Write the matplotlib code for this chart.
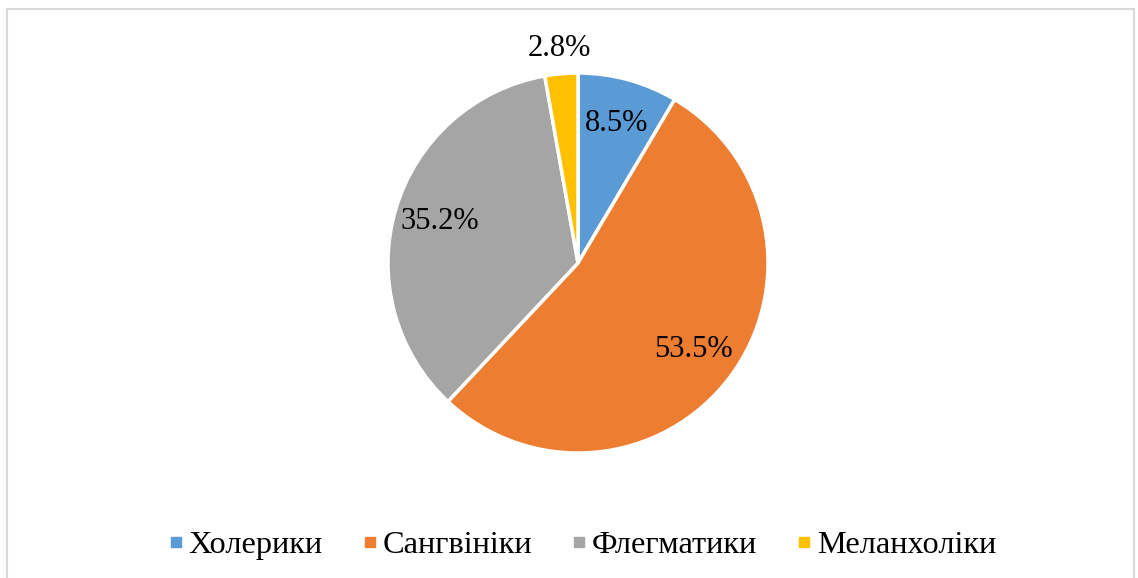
import matplotlib
matplotlib.use("Agg")
import matplotlib.pyplot as plt
from matplotlib.lines import Line2D
from matplotlib.patches import Rectangle

categories = ["Холерики", "Сангвініки", "Флегматики", "Меланхоліки"]
shares = [8.5, 53.5, 35.2, 2.8]
colours = ["#5b9bd5", "#ed7d31", "#a5a5a5", "#ffc000"]

plt.rcParams["font.family"] = ["Liberation Serif", "DejaVu Serif"]

W, H = 1138, 578
fig = plt.figure(figsize=(W / 100, H / 100), dpi=100)
ax = fig.add_axes([0, 0, 1, 1])

cx, cy = 578, H - 263
wedges, texts, autotexts = ax.pie(
    shares, colors=colours, startangle=90, counterclock=False,
    center=(cx, cy), radius=190, autopct="%.1f%%", pctdistance=0.76,
    wedgeprops=dict(edgecolor="white", linewidth=2.5),
    textprops=dict(fontsize=22, color="black"))

# pie() resets the limits, so put the pixel frame back afterwards
ax.set_xlim(0, W)
ax.set_ylim(0, H)
ax.set_aspect("equal")
ax.axis("off")

# light grey frame like the Excel chart area
ax.add_patch(Rectangle((7, -5), 1127, H - 9 + 5, fill=False,
                       edgecolor="#d9d9d9", linewidth=1.5))

# the tiny slice gets its label pushed outside
x, y = autotexts[-1].get_position()
autotexts[-1].set_position((cx + (x - cx) * 1.49, cy + (y - cy) * 1.49))

handles = [Line2D([], [], marker="s", linestyle="none", markersize=7,
                  markerfacecolor=c, markeredgecolor=c) for c in colours]
ax.legend(handles, categories, loc="center",
          bbox_to_anchor=(0.51, 1 - 545 / H),
          bbox_transform=fig.transFigure, ncol=4, frameon=False,
          fontsize=23.3, handletextpad=0.05, columnspacing=1.1,
          handlelength=0.7)

fig.savefig("out.png", dpi=100)
